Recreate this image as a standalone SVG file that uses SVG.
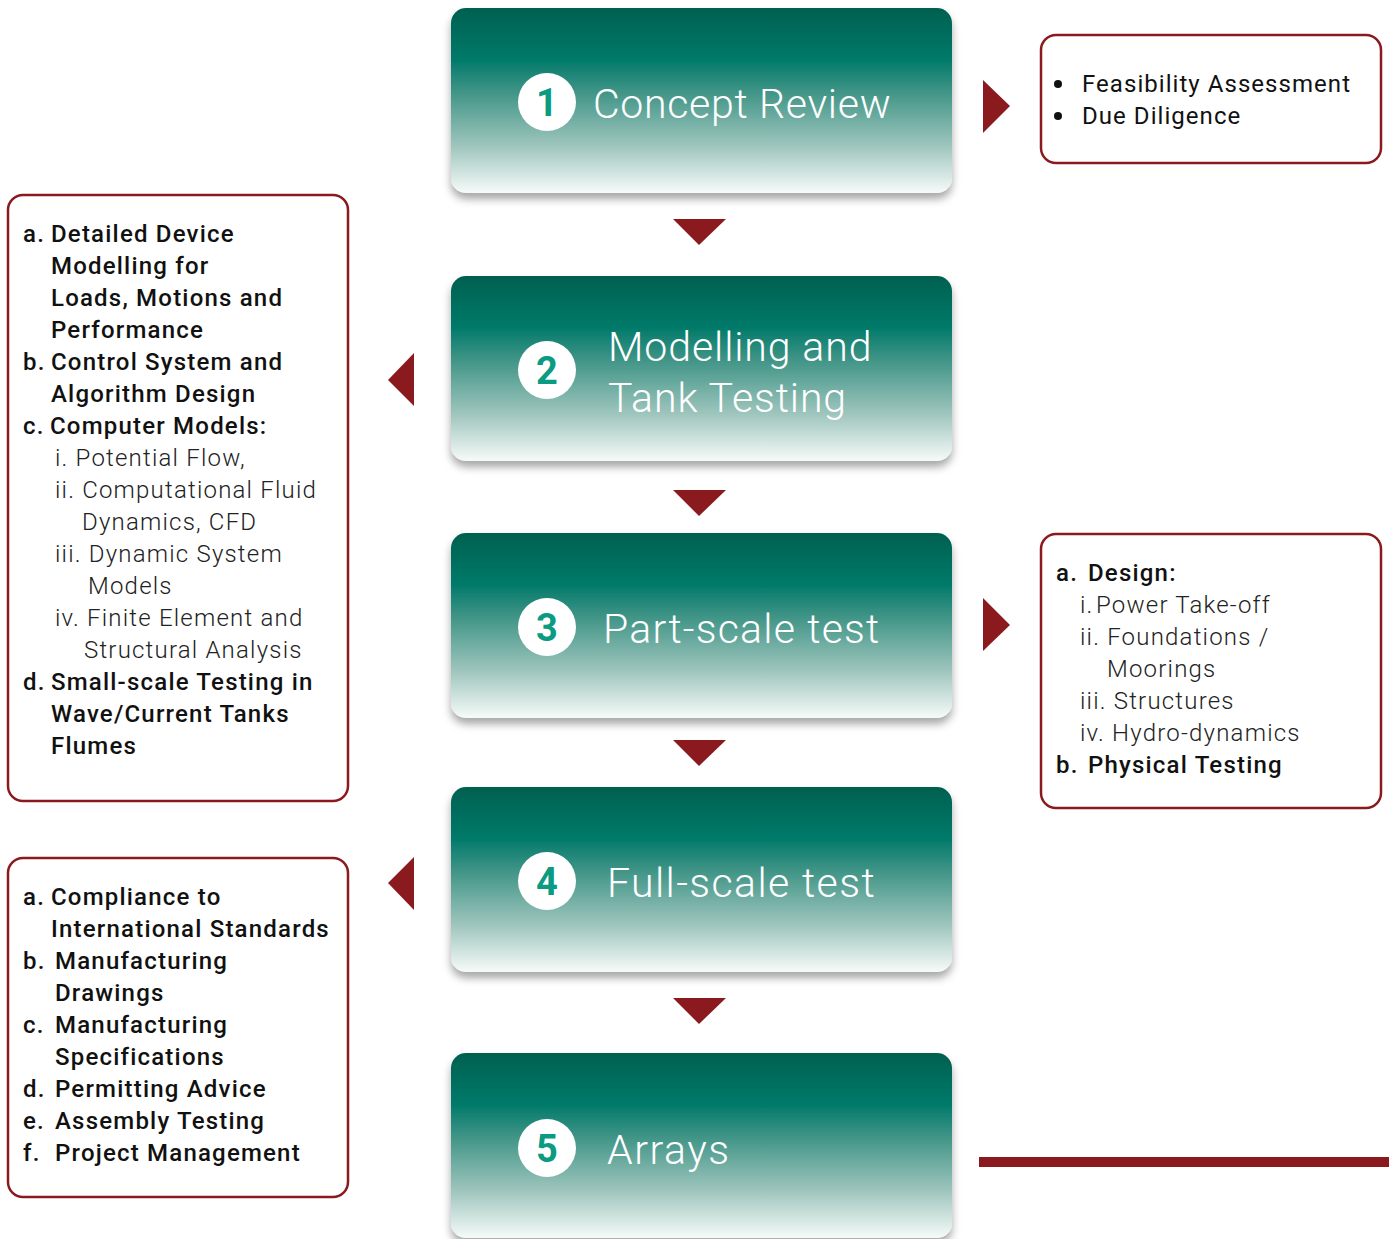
<svg xmlns="http://www.w3.org/2000/svg" width="1389" height="1239" viewBox="0 0 1389 1239">
<defs>
<linearGradient id="tg" x1="0" y1="0" x2="0" y2="1">
<stop offset="0" stop-color="#03604f"/>
<stop offset="0.28" stop-color="#017a6a"/>
<stop offset="0.45" stop-color="#3f9486"/>
<stop offset="0.75" stop-color="#a0c6be"/>
<stop offset="1" stop-color="#f6fbf9"/>
</linearGradient>
<filter id="sh" x="-5%" y="-5%" width="110%" height="120%">
<feDropShadow dx="0" dy="6" stdDeviation="4" flood-color="#000" flood-opacity="0.35"/>
</filter>
<style>
.step{fill:url(#tg);filter:url(#sh)}
.circ{fill:#fff}
.num{font-family:Roboto,"Liberation Sans",sans-serif;font-weight:bold;font-size:38px;fill:#0a9b82;text-anchor:middle}
.title{font-family:Roboto,"Liberation Sans",sans-serif;font-weight:300;font-size:41px;fill:#fff;letter-spacing:1.2px}
.tri{fill:#8b1a1e}
.box{fill:#fff;stroke:#8b1a1e;stroke-width:2.5}
.b{font-family:Roboto,"Liberation Sans",sans-serif;font-weight:500;font-size:24px;fill:#111;letter-spacing:1.2px}
.l{font-family:Roboto,"Liberation Sans",sans-serif;font-weight:300;font-size:24px;fill:#222;letter-spacing:1.2px}
.n{font-family:Roboto,"Liberation Sans",sans-serif;font-weight:400;font-size:24px;fill:#111;letter-spacing:1.05px}
</style>
</defs>
<rect width="1389" height="1239" fill="#fff"/>

<g id="step1">
<rect class="step" x="451" y="8" width="501" height="185" rx="15"/>
<circle class="circ" cx="547" cy="102" r="29"/>
<text class="num" x="547" y="116">1</text>
<text class="title" x="593" y="118" style="letter-spacing:0.7px">Concept Review</text>
</g>
<g id="step2">
<rect class="step" x="451" y="276" width="501" height="185" rx="15"/>
<circle class="circ" cx="547" cy="370" r="29"/>
<text class="num" x="547" y="384">2</text>
<text class="title" x="608" y="361" style="letter-spacing:0.9px">Modelling and</text>
<text class="title" x="608" y="412" style="letter-spacing:0.9px">Tank Testing</text>
</g>
<g id="step3">
<rect class="step" x="451" y="533" width="501" height="185" rx="15"/>
<circle class="circ" cx="547" cy="627" r="29"/>
<text class="num" x="547" y="641">3</text>
<text class="title" x="603" y="643">Part-scale test</text>
</g>
<g id="step4">
<rect class="step" x="451" y="787" width="501" height="185" rx="15"/>
<circle class="circ" cx="547" cy="881" r="29"/>
<text class="num" x="547" y="895">4</text>
<text class="title" x="607" y="897" style="letter-spacing:1.4px">Full-scale test</text>
</g>
<g id="step5">
<rect class="step" x="451" y="1053" width="501" height="185" rx="15"/>
<circle class="circ" cx="547" cy="1148" r="29"/>
<text class="num" x="547" y="1162">5</text>
<text class="title" x="607" y="1164" style="letter-spacing:1.5px">Arrays</text>
</g>

<g id="connectors">
<polygon class="tri" points="673,219 726,219 699,245"/>
<polygon class="tri" points="673,490 726,490 699,516"/>
<polygon class="tri" points="673,740 726,740 699,766"/>
<polygon class="tri" points="673,998 726,998 699,1024"/>
<polygon class="tri" points="983,80 1010,106 983,133"/>
<polygon class="tri" points="983,598 1010,625 983,651"/>
<polygon class="tri" points="414,353 388,380 414,406"/>
<polygon class="tri" points="414,857 388,883 414,910"/>
<rect x="979" y="1157" width="410" height="10" fill="#8b1a1e"/>
</g>

<g id="note1">
<rect class="box" x="1041" y="35" width="340" height="128" rx="15"/>
<circle cx="1058" cy="84" r="4" fill="#111"/>
<circle cx="1058" cy="116" r="4" fill="#111"/>
<text class="n" x="1082" y="92">Feasibility Assessment</text>
<text class="n" x="1082" y="124">Due Diligence</text>
</g>

<g id="note2">
<rect class="box" x="8" y="195" width="340" height="606" rx="15"/>
<text class="b" x="23" y="242">a.</text>
<text class="b" x="51" y="242">Detailed Device</text>
<text class="b" x="51" y="274">Modelling for</text>
<text class="b" x="51" y="306">Loads, Motions and</text>
<text class="b" x="51" y="338">Performance</text>
<text class="b" x="23" y="370">b.</text>
<text class="b" x="51" y="370">Control System and</text>
<text class="b" x="51" y="402">Algorithm Design</text>
<text class="b" x="23" y="434">c.</text>
<text class="b" x="50" y="434">Computer Models:</text>
<text class="l" x="55" y="466">i. Potential Flow,</text>
<text class="l" x="55" y="498">ii. Computational Fluid</text>
<text class="l" x="82" y="530">Dynamics, CFD</text>
<text class="l" x="55" y="562">iii. Dynamic System</text>
<text class="l" x="88" y="594">Models</text>
<text class="l" x="55" y="626">iv. Finite Element and</text>
<text class="l" x="84" y="658">Structural Analysis</text>
<text class="b" x="23" y="690">d.</text>
<text class="b" x="51" y="690">Small-scale Testing in</text>
<text class="b" x="51" y="722">Wave/Current Tanks</text>
<text class="b" x="51" y="754">Flumes</text>
</g>

<g id="note3">
<rect class="box" x="1041" y="534" width="340" height="274" rx="15"/>
<text class="b" x="1056" y="581">a.</text>
<text class="b" x="1088" y="581">Design:</text>
<text class="l" x="1080" y="613">i.</text>
<text class="l" x="1096" y="613">Power Take-off</text>
<text class="l" x="1080" y="645">ii. Foundations /</text>
<text class="l" x="1107" y="677">Moorings</text>
<text class="l" x="1080" y="709">iii. Structures</text>
<text class="l" x="1080" y="741">iv. Hydro-dynamics</text>
<text class="b" x="1056" y="773">b.</text>
<text class="b" x="1088" y="773">Physical Testing</text>
</g>

<g id="note4">
<rect class="box" x="8" y="858" width="340" height="339" rx="15"/>
<text class="b" x="23" y="905">a.</text>
<text class="b" x="51" y="905">Compliance to</text>
<text class="b" x="51" y="937">International Standards</text>
<text class="b" x="23" y="969">b.</text>
<text class="b" x="55" y="969">Manufacturing</text>
<text class="b" x="55" y="1001">Drawings</text>
<text class="b" x="23" y="1033">c.</text>
<text class="b" x="55" y="1033">Manufacturing</text>
<text class="b" x="55" y="1065">Specifications</text>
<text class="b" x="23" y="1097">d.</text>
<text class="b" x="55" y="1097">Permitting Advice</text>
<text class="b" x="23" y="1129">e.</text>
<text class="b" x="55" y="1129">Assembly Testing</text>
<text class="b" x="23" y="1161">f.</text>
<text class="b" x="55" y="1161">Project Management</text>
</g>
</svg>
